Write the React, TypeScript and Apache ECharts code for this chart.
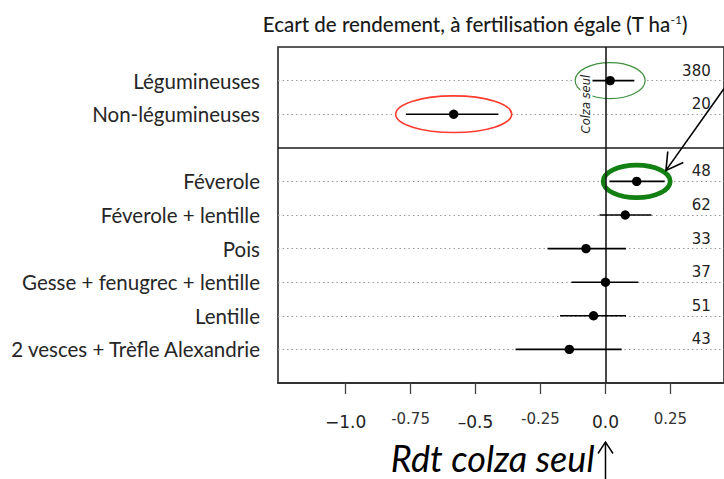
import React, { useEffect, useRef } from "react";
import * as echarts from "echarts";

// ---- data ----
const groupA = ["Légumineuses", "Non-légumineuses"];
const groupB = [
  "Féverole",
  "Féverole + lentille",
  "Pois",
  "Gesse + fenugrec + lentille",
  "Lentille",
  "2 vesces + Trèfle Alexandrie",
];
const categories = [...groupA, ...groupB];
const means = [0.018, -0.584, 0.12, 0.076, -0.075, 0.0, -0.046, -0.139];
const lower = [-0.07, -0.768, 0.015, -0.023, -0.223, -0.131, -0.175, -0.346];
const upper = [0.111, -0.412, 0.228, 0.177, 0.079, 0.126, 0.079, 0.062];
const counts = [380, 20, 48, 62, 33, 37, 51, 43];
const tickValues = [-1, -0.75, -0.5, -0.25, 0, 0.25];
const tickLabels = ["\u22121.0", "-0.75", "\u20130.5", "-0.25", "0.0", "0.25"];

// annotation specs (styling)
const highlights = [
  { row: "Légumineuses", color: "#3f8f3f", width: 1.2, rx: 35, ry: 18 },
  { row: "Non-légumineuses", color: "#ff3a2e", width: 1.6, rx: 58, ry: 18.3 },
  { row: "Féverole", color: "#128012", width: 4.8, rx: 33.5, ry: 16.2 },
];

const rowPos = categories.map((_, i) => (i < groupA.length ? i + 1 : i + 2));
const dividerPos = groupA.length + 1;
const yMax = categories.length + 2;
const countLabelX = 0.405;

const numFont = "DejaVu Sans";
const textFont = "Lato";

export default function App() {
  const ref = useRef<HTMLDivElement>(null);
  useEffect(() => {
    if (!ref.current) return;
    const chart = echarts.init(ref.current, null, { renderer: "svg" });
    const option: any = {
      animation: false,
      grid: {
        left: 278,
        top: 47,
        right: -3,
        bottom: 96,
        show: true,
        borderColor: "#262626",
        borderWidth: 1.6,
        backgroundColor: "transparent",
      },
      xAxis: {
        type: "value",
        min: -1.26,
        max: 0.456,
        axisLine: { show: true, onZero: false, lineStyle: { color: "#262626", width: 1.6 } },
        splitLine: { show: false },
        axisTick: {
          show: true,
          customValues: tickValues,
          length: 11,
          lineStyle: { color: "#444", width: 1.3 },
        },
        axisLabel: {
          customValues: tickValues,
          margin: 26,
          formatter: (v: number) => {
            const i = tickValues.findIndex((t) => Math.abs(t - v) < 1e-9);
            if (i < 0) return "";
            const lab = tickLabels[i];
            return lab.split(".")[1].length === 1 ? `{a|${lab}}` : `{b|${lab}}`;
          },
          rich: {
            a: { fontFamily: numFont, fontSize: 17, color: "#222", padding: [4, 0, 0, 0] },
            b: { fontFamily: numFont, fontSize: 15, color: "#333", padding: [2, 0, 0, 0] },
          },
        },
      },
      yAxis: {
        type: "value",
        inverse: true,
        min: 0,
        max: yMax,
        interval: 1,
        axisLine: { show: false },
        axisTick: { show: false },
        splitLine: { show: false },
        axisLabel: {
          margin: 18,
          fontFamily: textFont,
          fontSize: 20.5,
          color: "#262626",
          formatter: (v: number) => {
            const i = rowPos.indexOf(v);
            return i >= 0 ? categories[i] : "";
          },
        },
      },
      series: [
        {
          type: "line",
          data: [],
          z: 1,
          markLine: {
            z: 1,
            silent: true,
            symbol: ["none", "none"],
            label: { show: false },
            lineStyle: { type: [1.5, 3], color: "#9a9a9a", width: 1 },
            data: rowPos.map((p) => ({ yAxis: p })),
          },
        },
        {
          type: "custom",
          z: 2,
          data: highlights.map((h) => {
            const i = categories.indexOf(h.row);
            return [means[i], rowPos[i]];
          }),
          encode: { x: 0, y: 1 },
          renderItem: (params: any, api: any) => {
            const h = highlights[params.dataIndex];
            const c = api.coord([api.value(0), api.value(1)]);
            return {
              type: "ellipse",
              shape: { cx: c[0], cy: c[1], rx: h.rx, ry: h.ry },
              style: { fill: "#fff", stroke: h.color, lineWidth: h.width },
            };
          },
        },
        {
          type: "line",
          data: [],
          z: 3,
          markLine: {
            z: 3,
            silent: true,
            symbol: ["none", "none"],
            label: { show: false },
            lineStyle: { type: "solid", color: "#1a1a1a", width: 1.6 },
            data: [{ yAxis: dividerPos }, { xAxis: 0 }],
          },
        },
        {
          type: "custom",
          z: 4,
          data: categories.map((_, i) => [means[i], rowPos[i], lower[i], upper[i]]),
          encode: { x: [0, 2, 3], y: 1 },
          renderItem: (params: any, api: any) => {
            const y = api.value(1);
            const p0 = api.coord([api.value(2), y]);
            const p1 = api.coord([api.value(3), y]);
            const pm = api.coord([api.value(0), y]);
            return {
              type: "group",
              children: [
                {
                  type: "line",
                  shape: { x1: p0[0], y1: p0[1], x2: p1[0], y2: p1[1] },
                  style: { stroke: "#000", lineWidth: 1.6 },
                },
                {
                  type: "circle",
                  shape: { cx: pm[0], cy: pm[1], r: 4.7 },
                  style: { fill: "#000" },
                },
              ],
            };
          },
        },
        {
          type: "custom",
          z: 5,
          data: categories.map((_, i) => [countLabelX, rowPos[i], counts[i]]),
          encode: { x: 0, y: 1 },
          renderItem: (params: any, api: any) => {
            const c = api.coord([api.value(0), api.value(1)]);
            return {
              type: "text",
              x: c[0],
              y: c[1] - 10,
              style: {
                text: String(api.value(2)),
                fontFamily: numFont,
                fontSize: 15,
                fill: "#222",
                align: "right",
                verticalAlign: "middle",
              },
            };
          },
        },
      ],
    };
    chart.setOption(option);

    // annotations anchored to the data
    const x0 = chart.convertToPixel({ xAxisIndex: 0 }, 0) as number;
    const fi = categories.indexOf("Féverole");
    const fc = chart.convertToPixel({ gridIndex: 0 }, [means[fi], rowPos[fi]]) as number[];
    const tip = [fc[0] + 29.3, fc[1] - 11];
    const start = [fc[0] + 101, fc[1] - 112];
    const dx = start[0] - tip[0];
    const dy = start[1] - tip[1];
    const len = Math.hypot(dx, dy);
    const ux = dx / len;
    const uy = dy / len;
    const arm = (ang: number) => {
      const a = (ang * Math.PI) / 180;
      const rx = ux * Math.cos(a) - uy * Math.sin(a);
      const ry = ux * Math.sin(a) + uy * Math.cos(a);
      return [tip[0] + rx * 19, tip[1] + ry * 19];
    };
    const a1 = arm(30);
    const a2 = arm(-30);
    const y1 = chart.convertToPixel({ yAxisIndex: 0 }, 1.7) as number;

    chart.setOption({
      graphic: [
        {
          type: "text",
          x: 475,
          y: 24,
          style: {
            text: "{m|Ecart de rendement, à fertilisation égale (T ha}{s|-1}{m|)}",
            align: "center",
            verticalAlign: "middle",
            rich: {
              m: { fontFamily: textFont, fontSize: 20.5, fill: "#1a1a1a", fontWeight: 500 },
              s: { fontFamily: textFont, fontSize: 12, fill: "#1a1a1a", verticalAlign: "top", padding: [0, 0, 6, 0] },
            },
          },
        },
        {
          type: "text",
          x: x0 - 19,
          y: y1,
          rotation: Math.PI / 2,
          style: {
            text: "Colza seul",
            fontFamily: numFont,
            fontStyle: "italic",
            fontSize: 11.5,
            fill: "#222",
            align: "center",
            verticalAlign: "middle",
            backgroundColor: "#fff",
          },
          z: 10,
        },
        {
          type: "polyline",
          shape: { points: [start, tip] },
          style: { stroke: "#000", lineWidth: 1.6, fill: null },
          z: 10,
        },
        {
          type: "polyline",
          shape: { points: [a1, tip, a2] },
          style: { stroke: "#000", lineWidth: 1.6, fill: null },
          z: 10,
        },
        {
          type: "text",
          x: x0 - 11,
          y: 458,
          style: {
            text: "Rdt colza seul",
            fontFamily: textFont,
            fontStyle: "italic",
            fontSize: 36,
            fill: "#000",
            align: "right",
            verticalAlign: "middle",
          },
        },
        {
          type: "line",
          shape: { x1: x0, y1: 442, x2: x0, y2: 485 },
          style: { stroke: "#000", lineWidth: 1.5 },
        },
        {
          type: "polyline",
          shape: { points: [[x0 - 7.5, 453.5], [x0, 442], [x0 + 7.5, 453.5]] },
          style: { stroke: "#000", lineWidth: 1.5, fill: null },
        },
      ],
    });
    return () => chart.dispose();
  }, []);
  return (
    <div
      ref={ref}
      style={{ position: "absolute", left: 0, top: 0, width: 724, height: 479, background: "#fff" }}
    />
  );
}
